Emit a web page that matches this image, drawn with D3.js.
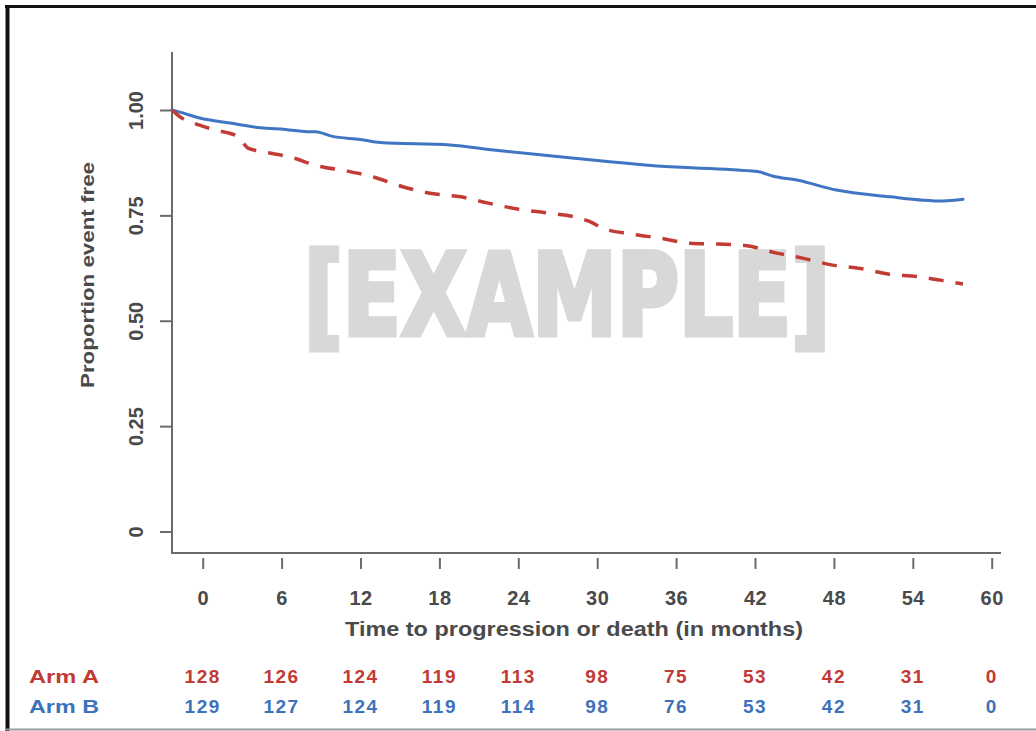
<!DOCTYPE html>
<html>
<head>
<meta charset="utf-8">
<script src="https://cdn.jsdelivr.net/npm/d3@7"></script>
<style>
  html, body { margin: 0; padding: 0; background: #ffffff; }
  svg { display: block; }
</style>
</head>
<body>
<svg id="chart" width="1036" height="731"></svg>
<script>
// ---------- data ----------
const armATime = [0, 0.6, 2.1, 3.1, 5.0, 5.8, 6.9, 9.0, 11.1, 13.3, 15.4, 17.5, 19.7, 21.9, 24.0, 26.2, 28.4, 30.7, 31.7, 32.7, 34.8, 37.0, 39.3, 41.4, 43.6, 45.8, 47.9, 50.1, 52.2, 54.3, 56.5, 58.9, 60.0];
const armASurv = [1.000, 0.984, 0.964, 0.954, 0.937, 0.909, 0.901, 0.888, 0.867, 0.855, 0.840, 0.818, 0.802, 0.794, 0.779, 0.765, 0.756, 0.745, 0.735, 0.719, 0.706, 0.696, 0.684, 0.682, 0.678, 0.661, 0.648, 0.632, 0.624, 0.611, 0.605, 0.593, 0.587];

const armBTime = [0, 0.6, 2.1, 4.4, 6.7, 8.6, 10.5, 10.9, 12.1, 14.3, 15.8, 21.1, 24.4, 29.4, 33.2, 36.8, 44.4, 45.6, 47.4, 50.4, 54.5, 57.0, 58.5, 60.0];
const armBSurv = [1.000, 0.995, 0.981, 0.969, 0.958, 0.954, 0.9485, 0.9485, 0.938, 0.930, 0.923, 0.917, 0.905, 0.889, 0.877, 0.867, 0.854, 0.843, 0.834, 0.810, 0.794, 0.786, 0.784, 0.788];

const xTickValues = [0, 6, 12, 18, 24, 30, 36, 42, 48, 54, 60];
const yTickValues = [0, 0.25, 0.5, 0.75, 1];
const yTickLabels = ["0", "0.25", "0.50", "0.75", "1.00"];

const riskLabels = ["Arm A", "Arm B"];
const riskArmA = [128, 126, 124, 119, 113, 98, 75, 53, 42, 31, 0];
const riskArmB = [129, 127, 124, 119, 114, 98, 76, 53, 42, 31, 0];

const xTitle = "Time to progression or death (in months)";
const yTitle = "Proportion event free";
const watermark = "[EXAMPLE]";

// ---------- styles ----------
const RED = "#c33b35";
const BLUE = "#3f75c3";
const RED_TXT = "#c23a33";
const BLUE_TXT = "#3d72bb";
const AXIS = "#6b6b6b";
const TXT = "#4a4a4a";
const FONT = "'Liberation Sans', Arial, sans-serif";

const svg = d3.select("#chart");

// frame
svg.append("rect").attr("x", 0).attr("y", 0).attr("width", 1036).attr("height", 731).attr("fill", "#fff");
svg.append("line").attr("x1", 5).attr("x2", 1036).attr("y1", 6.5).attr("y2", 6.5)
  .attr("stroke", "#111").attr("stroke-width", 3);
svg.append("line").attr("x1", 7.5).attr("x2", 7.5).attr("y1", 5).attr("y2", 731)
  .attr("stroke", "#111").attr("stroke-width", 4);
svg.append("line").attr("x1", 6).attr("x2", 1036).attr("y1", 729.5).attr("y2", 729.5)
  .attr("stroke", "#9a9a9a").attr("stroke-width", 2);

// ---------- scales ----------
const plotLeft = 172, axisTop = 52, axisBottom = 553, axisRight = 1001;
const y = d3.scaleLinear().domain([0, 1]).range([531.5, 110]);
const xCurve = d3.scaleLinear().domain([0, 60]).range([plotLeft, 963]);
const xTick = d3.scaleLinear().domain([0, 60]).range([202.7, 991.7]);

// watermark
svg.append("text")
  .attr("x", 304).attr("y", 335)
  .attr("textLength", 526).attr("lengthAdjust", "spacingAndGlyphs")
  .attr("font-family", "'Liberation Sans Narrow', 'DejaVu Sans Condensed', 'DejaVu Sans', sans-serif")
  .attr("font-weight", "bold")
  .attr("font-size", 114)
  .attr("fill", "#d8d8d8")
  .attr("stroke", "#d8d8d8").attr("stroke-width", 5).attr("stroke-linejoin", "miter")
  .text(watermark);

// ---------- axes ----------
svg.append("path")
  .attr("d", `M${plotLeft},${axisTop}V${axisBottom}H${axisRight}`)
  .attr("fill", "none").attr("stroke", AXIS).attr("stroke-width", 2);

const yAxis = d3.axisLeft(y).tickValues(yTickValues)
  .tickFormat((d, i) => yTickLabels[i]).tickSize(12).tickSizeOuter(0);
const gy = svg.append("g").attr("transform", `translate(${plotLeft},0)`).call(yAxis);
gy.select(".domain").remove();
gy.selectAll(".tick line").attr("stroke", AXIS).attr("stroke-width", 2);
gy.selectAll(".tick text")
  .attr("transform", "rotate(-90)")
  .attr("x", 0).attr("y", -29).attr("dy", 0)
  .attr("text-anchor", "middle")
  .attr("font-family", FONT).attr("font-weight", "bold").attr("font-size", 20)
  .attr("fill", TXT);

const xAxis = d3.axisBottom(xTick).tickValues(xTickValues).tickSize(11).tickSizeOuter(0);
const gx = svg.append("g").attr("transform", `translate(0,558)`).call(xAxis);
gx.select(".domain").remove();
gx.selectAll(".tick line").attr("stroke", AXIS).attr("stroke-width", 2);
gx.selectAll(".tick text")
  .attr("y", 47).attr("dy", 0)
  .attr("font-family", FONT).attr("font-weight", "bold").attr("font-size", 20)
  .attr("letter-spacing", 0.5)
  .attr("fill", TXT);

// axis titles
svg.append("text")
  .attr("x", 574).attr("y", 636)
  .attr("text-anchor", "middle")
  .attr("textLength", 458).attr("lengthAdjust", "spacingAndGlyphs")
  .attr("font-family", FONT).attr("font-weight", "bold").attr("font-size", 21)
  .attr("fill", TXT)
  .text(xTitle);

svg.append("text")
  .attr("transform", "translate(94,275) rotate(-90)")
  .attr("text-anchor", "middle")
  .attr("textLength", 226).attr("lengthAdjust", "spacingAndGlyphs")
  .attr("font-family", FONT).attr("font-weight", "bold").attr("font-size", 19)
  .attr("fill", TXT)
  .text(yTitle);

// ---------- curves ----------
const line = d3.line().x(d => xCurve(d[0])).y(d => y(d[1])).curve(d3.curveMonotoneX);

svg.append("path")
  .datum(armBTime.map((t, i) => [t, armBSurv[i]]))
  .attr("d", line)
  .attr("fill", "none").attr("stroke", BLUE).attr("stroke-width", 3)
  .attr("stroke-linejoin", "round").attr("stroke-linecap", "round");

svg.append("path")
  .datum(armATime.map((t, i) => [t, armASurv[i]]))
  .attr("d", line)
  .attr("fill", "none").attr("stroke", RED).attr("stroke-width", 3.5)
  .attr("stroke-dasharray", "15,12");

// ---------- risk table ----------
const rows = [
  { label: riskLabels[0], values: riskArmA, color: RED_TXT, base: 683 },
  { label: riskLabels[1], values: riskArmB, color: BLUE_TXT, base: 713 }
];
rows.forEach(r => {
  svg.append("text")
    .attr("x", 29).attr("y", r.base)
    .attr("textLength", 70).attr("lengthAdjust", "spacingAndGlyphs")
    .attr("font-family", FONT).attr("font-weight", "bold").attr("font-size", 18)
    .attr("fill", r.color)
    .text(r.label);
  svg.append("g").selectAll("text")
    .data(r.values)
    .join("text")
    .attr("x", (d, i) => xTick(xTickValues[i]))
    .attr("y", r.base)
    .attr("text-anchor", "middle")
    .attr("font-family", FONT).attr("font-weight", "bold").attr("font-size", 19)
    .attr("letter-spacing", 1.5)
    .attr("fill", r.color)
    .text(d => d);
});
</script>
</body>
</html>
